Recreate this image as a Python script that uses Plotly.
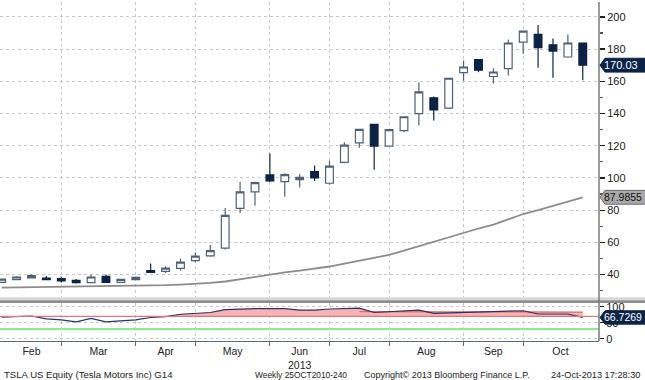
import plotly.graph_objects as go
from datetime import datetime, timedelta

# ---------------- data ----------------
weeks = ["2013-01-25", "2013-02-01", "2013-02-08", "2013-02-15", "2013-02-22",
         "2013-03-01", "2013-03-08", "2013-03-15", "2013-03-22", "2013-03-29",
         "2013-04-05", "2013-04-12", "2013-04-19", "2013-04-26",
         "2013-05-03", "2013-05-10", "2013-05-17", "2013-05-24", "2013-05-31",
         "2013-06-07", "2013-06-14", "2013-06-21", "2013-06-28",
         "2013-07-05", "2013-07-12", "2013-07-19", "2013-07-26",
         "2013-08-02", "2013-08-09", "2013-08-16", "2013-08-23", "2013-08-30",
         "2013-09-06", "2013-09-13", "2013-09-20", "2013-09-27",
         "2013-10-04", "2013-10-11", "2013-10-18", "2013-10-25"]

open_ = [35.2, 36.9, 38.0, 37.8, 37.5, 36.4, 35.0, 38.9, 35.2, 36.9,
         42.4, 42.0, 43.8, 48.6, 51.6, 56.4, 81.1, 91.4, 101.9, 97.7,
         99.0, 103.9, 96.7, 109.7, 121.8, 133.3, 119.8, 129.4, 139.9, 149.8,
         143.4, 165.4, 173.5, 163.0, 167.9, 184.4, 189.1, 182.7, 175.1, 183.8]
high = [37.6, 38.9, 40.1, 39.1, 38.7, 37.2, 40.0, 40.0, 37.2, 38.8,
        46.9, 45.1, 50.0, 53.7, 58.4, 81.3, 97.5, 97.7, 115.2, 102.9,
        102.3, 107.8, 110.7, 122.2, 130.4, 133.7, 130.4, 138.3, 159.3, 150.6,
        162.2, 173.0, 173.9, 168.1, 186.0, 191.4, 194.9, 186.6, 189.1, 184.0]
low = [34.8, 36.5, 37.6, 36.6, 35.0, 34.4, 34.8, 35.0, 34.8, 36.5,
       41.0, 40.9, 42.6, 47.7, 51.0, 55.6, 78.2, 82.7, 97.5, 88.3,
       94.0, 98.1, 95.7, 109.1, 118.7, 105.1, 119.5, 128.4, 132.5, 135.6,
       143.0, 160.3, 165.6, 158.6, 163.6, 177.2, 168.5, 162.2, 174.7, 160.7]
close = [37.2, 38.5, 39.3, 36.9, 36.0, 35.0, 38.5, 35.2, 37.0, 38.3,
         41.4, 44.0, 47.7, 51.4, 54.9, 76.7, 91.4, 97.1, 98.1, 102.0,
         100.4, 100.0, 107.4, 120.4, 130.1, 119.8, 130.0, 138.0, 153.5, 142.2,
         161.9, 168.9, 166.9, 165.8, 183.8, 191.2, 180.9, 178.8, 183.8, 170.03]

mavg = [31.9, 32.0, 32.1, 32.2, 32.3, 32.4, 32.5, 32.6, 32.8, 32.9,
        33.1, 33.4, 33.8, 34.2, 34.8, 35.7, 37.2, 38.6, 40.0, 41.3,
        42.4, 43.5, 45.0, 46.8, 48.5, 50.3, 52.2, 54.8, 57.6, 60.6,
        63.4, 66.2, 68.6, 71.0, 74.4, 77.6, 80.0, 82.7, 85.6, 87.9855]

rsi = [67.6, 69.4, 71.2, 62.1, 59.3, 52.9, 63.9, 52.9, 56.6, 59.3,
       66.6, 69.4, 76.7, 80.4, 82.2, 91.4, 93.2, 94.1, 94.1, 94.1,
       89.6, 89.6, 93.2, 95.1, 96.0, 82.2, 85.0, 86.8, 89.6, 79.5,
       81.3, 83.1, 85.0, 85.9, 86.8, 87.7, 77.6, 77.6, 77.6, 66.7269]

rsi_upper = [None] * 24 + [85.0, 84.5, 84.3, 84.2, 84.0, 84.0, 84.0, 84.0,
                            83.9, 83.9, 83.8, 83.8, 83.8, 83.8, 83.7, 83.7]

month_bounds = ["2013-01-25", "2013-02-22", "2013-03-29", "2013-04-26", "2013-05-31",
                "2013-06-28", "2013-07-26", "2013-08-30", "2013-09-27", "2013-11-01"]
month_labels = ["Feb", "Mar", "Apr", "May", "Jun<br>2013", "Jul", "Aug", "Sep", "Oct"]

price_ticks = [40, 60, 80, 100, 120, 140, 160, 180, 200]
rsi_ticks = [0, 50, 100]

# ---------------- styling ----------------
NAVY = "#0b2346"
HOLLOW_LINE = "#4f6079"
GRID = "#c8c8c8"
FONT = "Liberation Sans"

def d(s):
    return datetime.strptime(s, "%Y-%m-%d")

label_pos = []
for a, b in zip(month_bounds[:-1], month_bounds[1:]):
    da, db = d(a), d(b)
    label_pos.append((da + (db - da) / 2).strftime("%Y-%m-%d %H:%M"))

x_range = [(d(weeks[0]) - timedelta(hours=19)).strftime("%Y-%m-%d %H:%M"),
           (d(weeks[-1]) + timedelta(days=7, hours=15)).strftime("%Y-%m-%d %H:%M")]

fig = go.Figure()

fig.add_trace(go.Candlestick(
    x=weeks, open=open_, high=high, low=low, close=close,
    increasing=dict(fillcolor="white", line=dict(color=HOLLOW_LINE, width=1.2)),
    decreasing=dict(fillcolor=NAVY, line=dict(color=NAVY, width=1.2)),
    whiskerwidth=0, xaxis="x", yaxis="y", hoverinfo="skip", showlegend=False))

fig.add_trace(go.Scatter(x=weeks, y=mavg, mode="lines",
                         line=dict(color="#8c8c8c", width=1.8),
                         xaxis="x", yaxis="y", hoverinfo="skip", showlegend=False))

# RSI panel: overbought shading
base70 = [70] * len(weeks)
top_fill = []
for r, u in zip(rsi, rsi_upper):
    t = r if u is None else max(r, u)
    top_fill.append(max(t, 70))
fig.add_trace(go.Scatter(x=weeks, y=base70, mode="lines", line=dict(width=0, color="rgba(0,0,0,0)"),
                         xaxis="x2", yaxis="y2", hoverinfo="skip", showlegend=False))
fig.add_trace(go.Scatter(x=weeks, y=top_fill, mode="lines", line=dict(width=0, color="rgba(0,0,0,0)"),
                         fill="tonexty", fillcolor="rgba(245,160,160,0.8)",
                         xaxis="x2", yaxis="y2", hoverinfo="skip", showlegend=False))
fig.add_trace(go.Scatter(x=weeks, y=rsi_upper, mode="lines",
                         line=dict(color="#e06b6b", width=1.2),
                         xaxis="x2", yaxis="y2", hoverinfo="skip", showlegend=False))
fig.add_trace(go.Scatter(x=weeks, y=rsi, mode="lines",
                         line=dict(color="#2e3163", width=1.2),
                         xaxis="x2", yaxis="y2", hoverinfo="skip", showlegend=False))

shapes = []
# 70 / 30 reference lines
shapes.append(dict(type="line", xref="x2 domain", yref="y2", x0=0, x1=1, y0=70, y1=70,
                   line=dict(color="#e07a7a", width=1.2), layer="above"))
shapes.append(dict(type="line", xref="x2 domain", yref="y2", x0=0, x1=1, y0=30, y1=30,
                   line=dict(color="#90e890", width=2.2), layer="above"))
# separator band between panels
shapes.append(dict(type="rect", xref="paper", yref="paper", x0=0, x1=1.08, y0=0.1202, y1=0.129,
                   fillcolor="#d9d9d9", line=dict(width=0), layer="above"))
shapes.append(dict(type="rect", xref="paper", yref="paper", x0=0, x1=1.08, y0=0.1123, y1=0.1202,
                   fillcolor="#8c8c8c", line=dict(width=0), layer="above"))
# right axis line across both panels
shapes.append(dict(type="line", xref="paper", yref="paper", x0=1, x1=1, y0=0, y1=1,
                   line=dict(color="#7a7a7a", width=1.5), layer="above"))

annotations = []

def value_tag(yref, val, half_h, text, fill, border, fcolor, size):
    tip, sh, right = 1.0017, 1.010, 1.08
    path = (f"M {tip},{val} L {sh},{val + half_h} L {right},{val + half_h} "
            f"L {right},{val - half_h} L {sh},{val - half_h} Z")
    shapes.append(dict(type="path", xref="paper", yref=yref, path=path,
                       fillcolor=fill, line=dict(color=border, width=1), layer="above"))
    annotations.append(dict(x=sh, y=val, xref="paper", yref=yref, text=text, showarrow=False,
                            xanchor="left", yanchor="middle", xshift=-3,
                            font=dict(family=FONT, size=size, color=fcolor)))

value_tag("y", close[-1], 4.3, f"{close[-1]:.2f}", NAVY, NAVY, "white", 11)
value_tag("y", mavg[-1], 4.3, f"{mavg[-1]:.4f}", "#a9a9a9", "#6e6e6e", "#111111", 10.5)
value_tag("y2", rsi[-1], 21.0, f"{rsi[-1]:.4f}", NAVY, NAVY, "white", 10.5)

# footer
FOOT_Y = -0.1
annotations += [
    dict(x=0.004, y=FOOT_Y, xref="paper", yref="paper", text="TSLA US Equity (Tesla Motors Inc) G14",
         showarrow=False, xanchor="left", yanchor="middle",
         font=dict(family=FONT, size=9.6, color="#222222")),
    dict(x=0.4224, y=FOOT_Y, xref="paper", yref="paper", text="Weekly 25OCT2010-240",
         showarrow=False, xanchor="left", yanchor="middle",
         font=dict(family=FONT, size=8.4, color="#222222")),
    dict(x=0.604, y=FOOT_Y, xref="paper", yref="paper", text="Copyright© 2013 Bloomberg Finance L.P.",
         showarrow=False, xanchor="left", yanchor="middle",
         font=dict(family=FONT, size=9.0, color="#222222")),
    dict(x=1.0718, y=FOOT_Y, xref="paper", yref="paper", text="24-Oct-2013 17:28:30",
         showarrow=False, xanchor="right", yanchor="middle",
         font=dict(family=FONT, size=9.2, color="#222222")),
]

tick_font = dict(family=FONT, size=11, color="#1a1a1a")
inner_bounds = month_bounds[1:-1]

fig.update_layout(
    width=645, height=380,
    margin=dict(l=0, r=46, t=0, b=39),
    paper_bgcolor="white", plot_bgcolor="white",
    showlegend=False, hovermode=False, boxgap=0.26,
    shapes=shapes, annotations=annotations,
    xaxis=dict(domain=[0, 1], anchor="y", type="date", range=x_range,
               rangeslider=dict(visible=False), showticklabels=False, showgrid=False,
               tickmode="array", tickvals=label_pos, ticks="",
               minor=dict(tickmode="array", tickvals=inner_bounds, showgrid=True,
                          gridcolor=GRID, griddash="dot", gridwidth=1, ticks=""),
               showline=False, zeroline=False),
    yaxis=dict(domain=[0.129, 1], anchor="x", side="right", range=[25.9, 209.26],
               tickmode="array", tickvals=price_ticks, ticks="outside", ticklen=5,
               tickwidth=1.3, tickcolor="#222222", tickfont=tick_font,
               showgrid=True, gridcolor=GRID, griddash="dot", gridwidth=1,
               minor=dict(dtick=10, tick0=0, ticks="outside", ticklen=3,
                          tickcolor="#555555", showgrid=False),
               showline=False, zeroline=False),
    xaxis2=dict(domain=[0, 1], anchor="y2", type="date", range=x_range,
                matches="x", rangeslider=dict(visible=False),
                tickmode="array", tickvals=label_pos, ticktext=month_labels, ticks="",
                tickfont=dict(family=FONT, size=10.5, color="#222222"),
                minor=dict(tickmode="array", tickvals=inner_bounds, showgrid=True,
                           gridcolor=GRID, griddash="dot", gridwidth=1,
                           ticks="outside", ticklen=4, tickcolor="#5a6a80"),
                showgrid=False, showline=True, linecolor="#5a6a80", linewidth=1.3,
                zeroline=False),
    yaxis2=dict(domain=[0, 0.1123], anchor="x2", side="right", range=[-7, 112.2],
                tickmode="array", tickvals=rsi_ticks, ticks="outside", ticklen=4,
                tickwidth=1.3, tickcolor="#222222", tickfont=tick_font,
                showgrid=True, gridcolor=GRID, griddash="dot", gridwidth=1,
                showline=False, zeroline=False),
)

fig.write_html("out.html", config={"displayModeBar": False, "staticPlot": True},
               post_script="document.body.style.margin='0';document.body.style.padding='0';"
                           "document.documentElement.style.overflow='hidden';")
